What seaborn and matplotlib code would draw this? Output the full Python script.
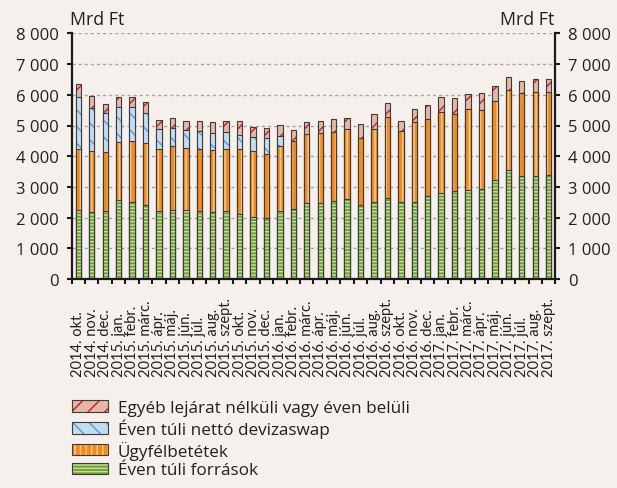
import numpy as np
import pandas as pd
import matplotlib
matplotlib.use("Agg")
import matplotlib.pyplot as plt
import seaborn as sns
from matplotlib.patches import Patch
from matplotlib.legend_handler import HandlerTuple
from matplotlib.ticker import FuncFormatter

# ---------------- data (Mrd Ft) ----------------
periods = [
    "2014. okt.", "2014. nov.", "2014. dec.",
    "2015. jan.", "2015. febr.", "2015. márc.", "2015. ápr.", "2015. máj.", "2015. jún.",
    "2015. júl.", "2015. aug.", "2015. szept.", "2015. okt.", "2015. nov.", "2015. dec.",
    "2016. jan.", "2016. febr.", "2016. márc.", "2016. ápr.", "2016. máj.", "2016. jún.",
    "2016. júl.", "2016. aug.", "2016. szept.", "2016. okt.", "2016. nov.", "2016. dec.",
    "2017. jan.", "2017. febr.", "2017. márc.", "2017. ápr.", "2017. máj.", "2017. jún.",
    "2017. júl.", "2017. aug.", "2017. szept.",
]
long_term_funds = [  # Éven túli források
    2245, 2190, 2220, 2580, 2510, 2420, 2230, 2260, 2260, 2230, 2180, 2230,
    2120, 2030, 1990, 2200, 2290, 2480, 2480, 2540, 2600, 2420, 2510, 2630,
    2510, 2510, 2690, 2800, 2880, 2910, 2940, 3210, 3540, 3370, 3340, 3400,
]
customer_deposits = [  # Ügyfélbetétek
    1985, 1990, 1930, 1880, 1980, 2000, 2020, 2060, 2020, 2000, 2010, 2000,
    2110, 2130, 2070, 2120, 2200, 2240, 2270, 2260, 2280, 2160, 2370, 2650,
    2310, 2590, 2520, 2630, 2490, 2620, 2580, 2580, 2620, 2680, 2740, 2700,
]
fx_swap = [  # Éven túli nettó devizaswap
    1710, 1380, 1250, 1150, 1110, 980, 630, 600, 580, 600, 560, 570,
    470, 450, 520, 330, 0, 0, 0, 0, 0, 0, 0, 0,
    0, 0, 0, 0, 0, 0, 0, 0, 0, 0, 0, 0,
]
other_funds = [  # Egyéb lejárat nélküli vagy éven belüli
    420, 400, 310, 330, 340, 350, 310, 330, 290, 320, 360, 340,
    440, 340, 330, 370, 360, 380, 390, 410, 360, 460, 490, 460,
    320, 450, 460, 510, 520, 480, 530, 500, 420, 410, 430, 410,
]
series_labels = [
    "Éven túli források",
    "Ügyfélbetétek",
    "Éven túli nettó devizaswap",
    "Egyéb lejárat nélküli vagy éven belüli",
]
y_ticks = [0, 1000, 2000, 3000, 4000, 5000, 6000, 7000, 8000]
unit_label = "Mrd Ft"

# ---------------- styling ----------------
BG = "#F6F0EC"
TXT = "#231F20"
OUTLINE = "#3E3B3A"
styles = [  # (face, hatch colour, hatch)
    ("#6C9E30", "#C4DB9E", "-----"),
    ("#F58A1C", "#FCC88C", "|||"),
    ("#C4DCF1", "#5E9ED6", "\\\\"),
    ("#E4B8A8", "#C4282E", "//"),
]
FS = 12

plt.rcParams["font.family"] = ["Open Sans", "DejaVu Sans"]
plt.rcParams["hatch.linewidth"] = 1.1

df = pd.DataFrame({
    "period": periods,
    "g": long_term_funds,
    "o": customer_deposits,
    "b": fx_swap,
    "r": other_funds,
})
df["c1"] = df["g"]
df["c2"] = df["c1"] + df["o"]
df["c3"] = df["c2"] + df["b"]
df["c4"] = df["c3"] + df["r"]

fig = plt.figure(figsize=(6.17, 4.89), dpi=100, facecolor=BG)
ax = fig.add_axes([71.6 / 617, 1 - 280 / 489, (555.4 - 71.6) / 617, (280 - 34.4) / 489])
ax.set_facecolor(BG)

# draw cumulative layers from top to bottom (each covers the one before)
for col, (face, hcol, hatch) in zip(["c4", "c3", "c2", "c1"], styles[::-1]):
    sns.barplot(data=df, x="period", y=col, order=periods, color=face,
                hatch=hatch, edgecolor=hcol, linewidth=0, width=0.4,
                saturation=1, errorbar=None, ax=ax)
    sns.barplot(data=df, x="period", y=col, order=periods, color=OUTLINE,
                fill=False, linewidth=0.8, width=0.4,
                saturation=1, errorbar=None, ax=ax)

ax.set_xlabel("")
ax.set_ylabel("")
n = len(periods)
ax.set_xlim(-0.5, n - 0.5)
ax.set_ylim(0, 8000)

# y axis (both sides)
ax.set_yticks(y_ticks)
ax.yaxis.set_major_formatter(FuncFormatter(lambda v, p: f"{int(v):,}".replace(",", " ")))
ax.tick_params(axis="y", which="major", left=True, right=True, labelleft=True,
               labelright=True, direction="out", length=3.8, width=1.5,
               pad=5.5, labelsize=FS, labelcolor=TXT, color="#1a1a1a")

# x axis: labels at bar centres, ticks at bar boundaries
ax.set_xticks(range(n))
ax.set_xticklabels(periods, rotation=90, va="bottom", ha="center",
                   family=["Lato", "DejaVu Sans"])
ax.tick_params(axis="x", which="major", length=0, pad=69.5, labelsize=10.5,
               labelcolor=TXT)
ax.set_xticks(np.arange(-0.5, n, 1.0), minor=True)
ax.tick_params(axis="x", which="minor", length=3.5, width=1.5, direction="out",
               color="#1a1a1a")

# grid
ax.set_axisbelow(True)
ax.yaxis.grid(True, color="#A3A3A3", linewidth=1.0, linestyle=(0, (2.2, 2.2)))
ax.xaxis.grid(False)

for s in ["left", "right", "bottom"]:
    ax.spines[s].set_linewidth(1.6)
    ax.spines[s].set_color("#1a1a1a")
ax.spines["top"].set_visible(False)

# unit labels
fig.text(70 / 617, 1 - 25 / 489, unit_label, ha="left", va="baseline",
         fontsize=12.8, color=TXT)
fig.text(554 / 617, 1 - 25 / 489, unit_label, ha="right", va="baseline",
         fontsize=12.8, color=TXT)

# legend (reverse order)
handles = []
for face, hcol, hatch in styles[::-1]:
    handles.append((Patch(facecolor=face, edgecolor=hcol, hatch=hatch, linewidth=0),
                    Patch(facecolor="none", edgecolor=OUTLINE, linewidth=0.8)))
fig.legend(handles, series_labels[::-1], handler_map={tuple: HandlerTuple(ndivide=1)},
           loc="upper left", bbox_to_anchor=(72 / 617, 1 - 401 / 489),
           frameon=False, borderpad=0, borderaxespad=0, fontsize=12.3,
           handlelength=2.1, handleheight=0.64, handletextpad=0.58,
           labelspacing=0.15, labelcolor=TXT)

fig.savefig("out.png", dpi=100, facecolor=BG)
